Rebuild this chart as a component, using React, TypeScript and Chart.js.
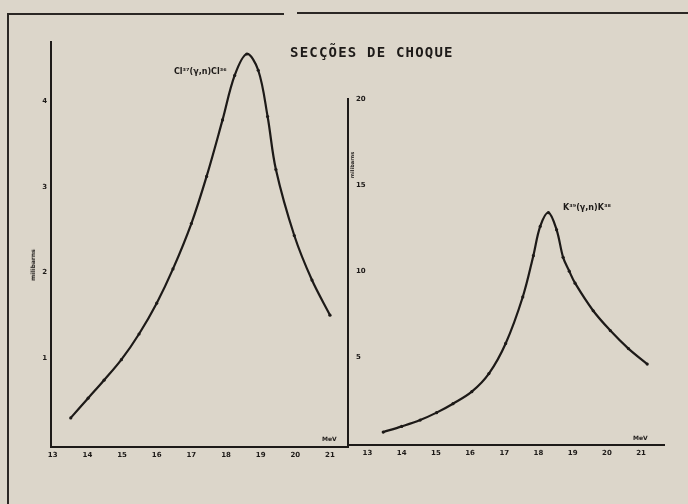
import React, { useEffect, useRef } from "react";
import { Chart, registerables } from "chart.js";

Chart.register(...registerables);

// ---- Data ----
const energyTicks = [13, 14, 15, 16, 17, 18, 19, 20, 21];
const leftYTicks = [1, 2, 3, 4];
const rightYTicks = [5, 10, 15, 20];

// Cl37(γ,n)Cl36 — left panel
const leftEnergy = [13.52, 14.02, 14.48, 14.98, 15.49, 16.0, 16.47, 17.0, 17.44, 17.9, 18.25, 18.6, 18.93, 19.2, 19.44, 19.97, 20.48, 21.0];
const leftSigma = [0.3, 0.53, 0.74, 0.98, 1.28, 1.64, 2.04, 2.57, 3.12, 3.78, 4.3, 4.55, 4.36, 3.82, 3.2, 2.43, 1.91, 1.5];

// K39(γ,n)K38 — right panel
const rightEnergy = [13.46, 14.0, 14.54, 15.02, 15.5, 16.05, 16.55, 17.04, 17.54, 17.85, 18.05, 18.29, 18.53, 18.72, 18.9, 19.07, 19.6, 20.1, 20.63, 21.18];
const rightSigma = [0.65, 0.98, 1.35, 1.78, 2.3, 3.0, 4.05, 5.8, 8.5, 10.9, 12.6, 13.4, 12.4, 10.8, 10.0, 9.3, 7.7, 6.55, 5.5, 4.6];

const INK = "#1d1a18";
const BG = "#dcd6ca";
const W = 688;
const H = 504;

type PanelOpts = {
  energies: number[];
  values: number[];
  xMin: number;
  xMax: number;
  yMin: number;
  yMax: number;
  yTicks: number[];
  padding: { left: number; right: number; top: number; bottom: number };
  yWidth: number;
  mirror: boolean;
};

function makeConfig(p: PanelOpts): any {
  const tickFont = { size: 7, weight: "bold" as const, family: "DejaVu Sans" };
  return {
    type: "line",
    data: {
      datasets: [
        {
          data: p.energies.map((x, i) => ({ x, y: p.values[i] })),
          borderColor: INK,
          borderWidth: 2.2,
          pointRadius: 1.6,
          pointBackgroundColor: INK,
          pointBorderWidth: 0,
          tension: 0.35,
          fill: false,
        },
      ],
    },
    options: {
      responsive: false,
      animation: false,
      devicePixelRatio: 1,
      layout: { padding: p.padding },
      plugins: {
        legend: { display: false },
        tooltip: { enabled: false },
        title: { display: false },
      },
      scales: {
        x: {
          type: "linear",
          min: p.xMin,
          max: p.xMax,
          afterBuildTicks: (s: any) => {
            s.ticks = energyTicks.map((v) => ({ value: v }));
          },
          afterFit: (s: any) => {
            s.height = 30;
          },
          grid: { display: false, drawTicks: false },
          border: { display: true, color: INK, width: 2 },
          ticks: {
            color: INK,
            font: tickFont,
            padding: 4,
            maxRotation: 0,
            autoSkip: false,
            callback: (v: any) => String(v),
          },
        },
        y: {
          type: "linear",
          min: p.yMin,
          max: p.yMax,
          afterBuildTicks: (s: any) => {
            s.ticks = p.yTicks.map((v) => ({ value: v }));
          },
          afterFit: (s: any) => {
            s.width = p.yWidth;
          },
          grid: { display: false, drawTicks: false },
          border: { display: true, color: INK, width: 2 },
          ticks: {
            color: INK,
            font: tickFont,
            padding: p.mirror ? 8 : 4,
            mirror: p.mirror,
            autoSkip: false,
            callback: (v: any) => String(v),
          },
        },
      },
    },
  };
}

function Panel({ opts }: { opts: PanelOpts }) {
  const ref = useRef<HTMLCanvasElement | null>(null);
  useEffect(() => {
    if (!ref.current) return;
    const chart = new Chart(ref.current, makeConfig(opts));
    return () => chart.destroy();
  }, []);
  return (
    <canvas
      ref={ref}
      width={W}
      height={H}
      style={{ position: "absolute", left: 0, top: 0, width: W, height: H }}
    />
  );
}

const leftPanel: PanelOpts = {
  energies: leftEnergy,
  values: leftSigma,
  xMin: 12.95,
  xMax: 21.52,
  yMin: -0.04,
  yMax: 4.69,
  yTicks: leftYTicks,
  padding: { left: 11, right: 340, top: 42, bottom: 27 },
  yWidth: 40,
  mirror: false,
};

const rightPanel: PanelOpts = {
  energies: rightEnergy,
  values: rightSigma,
  xMin: 12.43,
  xMax: 21.67,
  yMin: -0.1,
  yMax: 20,
  yTicks: rightYTicks,
  padding: { left: 348, right: 24, top: 99, bottom: 29 },
  yWidth: 0,
  mirror: true,
};

const textBase: React.CSSProperties = {
  position: "absolute",
  color: INK,
  fontFamily: "DejaVu Sans",
  fontWeight: "bold",
  whiteSpace: "nowrap",
  lineHeight: 1,
};

export default function App() {
  return (
    <div
      style={{
        position: "fixed",
        left: 0,
        top: 0,
        width: W,
        height: H,
        background: BG,
        overflow: "hidden",
      }}
    >
      {/* frame */}
      <div style={{ position: "absolute", left: 7, top: 13, width: 277, height: 2, background: "#2b2724" }} />
      <div style={{ position: "absolute", left: 297, top: 12, width: 391, height: 2, background: "#2b2724" }} />
      <div style={{ position: "absolute", left: 7, top: 13, width: 2, height: 491, background: "#2b2724" }} />

      <Panel opts={leftPanel} />
      <Panel opts={rightPanel} />

      {/* title */}
      <div
        style={{
          ...textBase,
          left: 290,
          top: 45,
          fontFamily: "DejaVu Sans Mono",
          fontSize: 14,
          letterSpacing: 1.2,
        }}
      >
        SECÇÕES DE CHOQUE
      </div>

      {/* curve labels */}
      <div style={{ ...textBase, left: 174, top: 68, fontSize: 8 }}>Cl³⁷(γ,n)Cl³⁶</div>
      <div style={{ ...textBase, left: 563, top: 204, fontSize: 8 }}>K³⁹(γ,n)K³⁸</div>

      {/* axis titles */}
      <div
        style={{
          ...textBase,
          left: 33,
          top: 265,
          fontSize: 6,
          transform: "translate(-50%, -50%) rotate(-90deg)",
        }}
      >
        milibarns
      </div>
      <div
        style={{
          ...textBase,
          left: 352,
          top: 165,
          fontSize: 5,
          transform: "translate(-50%, -50%) rotate(-90deg)",
        }}
      >
        milibarns
      </div>
      <div style={{ ...textBase, left: 322, top: 436, fontSize: 6 }}>MeV</div>
      <div style={{ ...textBase, left: 633, top: 435, fontSize: 6 }}>MeV</div>
    </div>
  );
}
